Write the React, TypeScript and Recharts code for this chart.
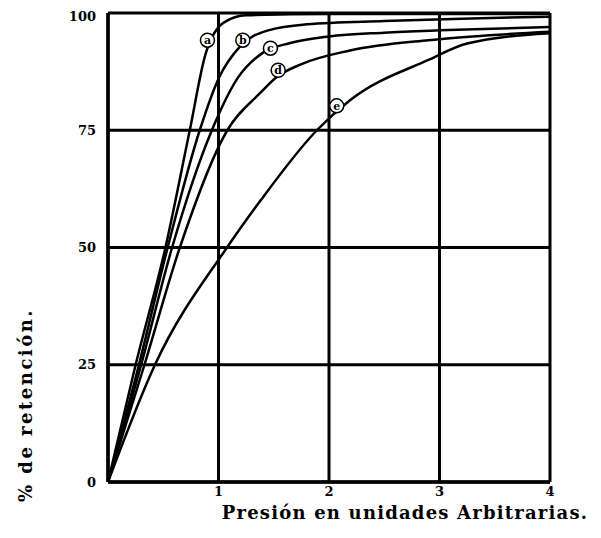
import React from 'react';
import {
  LineChart,
  Line,
  XAxis,
  YAxis,
  CartesianGrid,
  ReferenceDot,
  Label,
} from 'recharts';

// presión (unidades arbitrarias) vs % de retención, one curve per sample
const xTicks = [0, 1, 2, 3, 4];
const yTicks = [0, 25, 50, 75, 100];

const aX = [0, 0.25, 0.52, 0.74, 0.88, 1.05, 1.25, 2, 4];
const aY = [0, 25, 50, 75, 91, 98, 99.5, 99.8, 99.8];

const bX = [0, 0.28, 0.54, 0.83, 1.0, 1.2, 1.45, 1.8, 2.5, 3.2, 4];
const bY = [0, 25, 50, 75, 86, 93, 96.3, 97.6, 98.3, 98.8, 99.2];

const cX = [0, 0.3, 0.58, 0.94, 1.17, 1.4, 1.65, 2.0, 2.5, 3.0, 4];
const cY = [0, 25, 50, 75, 86, 91.5, 93.6, 95, 95.8, 96.3, 97];

const dX = [0, 0.33, 0.65, 1.08, 1.38, 1.53, 1.74, 2.19, 2.9, 3.3, 4];
const dY = [0, 25, 50, 75, 83, 86.4, 89, 92, 94.2, 95, 96];

const eX = [0, 0.425, 1.077, 1.38, 1.89, 2.19, 2.9, 3.25, 4];
const eY = [0, 25, 50, 60, 75, 81.4, 90, 93.5, 95.7];

// curve letters and where they sit on the curves
const curveNames = ['a', 'b', 'c', 'd', 'e'];
const tagX = [0.9, 1.22, 1.47, 1.54, 2.07];
const tagY = [94.2, 94.2, 92.5, 87.8, 80.2];

const toPoints = (xs: number[], ys: number[]) => xs.map((x, i) => ({ x, y: ys[i] }));

const series = [
  toPoints(aX, aY),
  toPoints(bX, bY),
  toPoints(cX, cY),
  toPoints(dX, dY),
  toPoints(eX, eY),
];

const FONT = '"DejaVu Serif", serif';

export default function App() {
  return (
    <div style={{ width: 585, height: 522, background: '#fff' }}>
      <LineChart
        width={585}
        height={522}
        margin={{ top: 5, right: 43, left: 0, bottom: 0 }}
      >
        <CartesianGrid stroke="#000" strokeWidth={3} />
        <XAxis
          type="number"
          dataKey="x"
          domain={[0, 4]}
          ticks={xTicks}
          allowDataOverflow
          height={48}
          tickSize={0}
          tickMargin={5}
          tickFormatter={(v: number) => (v === 0 ? '' : String(v))}
          axisLine={{ stroke: '#000', strokeWidth: 3.5 }}
          tick={{ fill: '#000', fontSize: 13, fontWeight: 'bold', fontFamily: FONT }}
        >
          <Label
            content={() => (
              <text
                x={397}
                y={504}
                textAnchor="middle"
                dominantBaseline="central"
                fontSize={18}
                letterSpacing={1.2}
                fontWeight="bold"
                fontFamily={FONT}
                fill="#000"
              >
                Presión en unidades Arbitrarias.
              </text>
            )}
          />
        </XAxis>
        <YAxis
          type="number"
          domain={[0, 100]}
          ticks={yTicks}
          width={100}
          tickSize={0}
          tickMargin={12}
          axisLine={{ stroke: '#000', strokeWidth: 3.5 }}
          tick={{ fill: '#000', fontSize: 13, fontWeight: 'bold', fontFamily: FONT }}
        >
          <Label
            content={() => (
              <text
                x={17}
                y={397}
                transform="rotate(-90 17 397)"
                textAnchor="middle"
                dominantBaseline="central"
                fontSize={18}
                letterSpacing={2.5}
                fontWeight="bold"
                fontFamily={FONT}
                fill="#000"
              >
                % de retención.
              </text>
            )}
          />
        </YAxis>
        {series.map((pts, i) => (
          <Line
            key={curveNames[i]}
            data={pts}
            dataKey="y"
            type="monotone"
            stroke="#000"
            strokeWidth={2.5}
            dot={false}
            isAnimationActive={false}
          />
        ))}
        {curveNames.map((n, i) => (
          <ReferenceDot
            key={n}
            x={tagX[i]}
            y={tagY[i]}
            r={7}
            fill="#fff"
            stroke="#000"
            strokeWidth={1.5}
            label={{
              value: n,
              position: 'center',
              fontSize: 11,
              fontWeight: 'bold',
              fontFamily: FONT,
              fill: '#000',
            }}
          />
        ))}
      </LineChart>
    </div>
  );
}
